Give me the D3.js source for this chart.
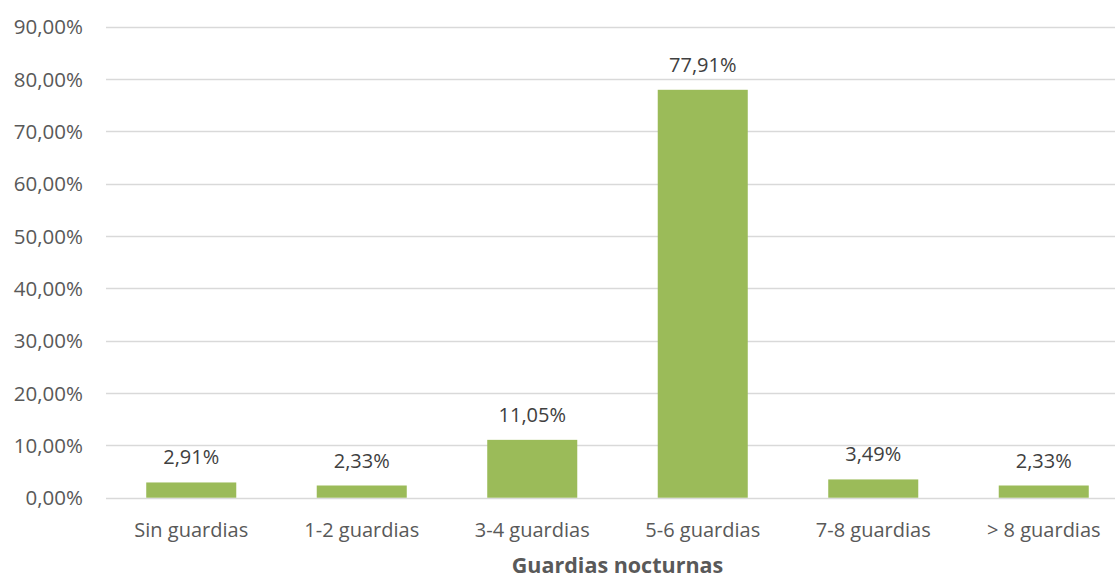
<!DOCTYPE html>
<html><head><meta charset="utf-8">
<script src="https://cdn.jsdelivr.net/npm/d3@7"></script>
<style>body{margin:0;background:#fff}svg{display:block}text{font-family:"Open Sans",sans-serif}</style>
</head><body>
<svg id="c" width="1115" height="578"></svg>
<script>
const categories = ["Sin guardias","1-2 guardias","3-4 guardias","5-6 guardias","7-8 guardias","> 8 guardias"];
const values = [2.91, 2.33, 11.05, 77.91, 3.49, 2.33];
const yTicks = [0,10,20,30,40,50,60,70,80,90];
const axisTitle = "Guardias nocturnas";

const svg = d3.select("#c");
const fmt = v => d3.format(".2f")(v).replace(".", ",") + "%";
const x = d3.scaleBand().domain(categories).range([106, 1129]).paddingInner(0.472).paddingOuter(0.236);
const y = d3.scaleLinear().domain([0, 90]).range([497.7, 26.5]);

// gridlines
svg.append("g").selectAll("line").data(yTicks).join("line")
  .attr("x1", 106).attr("x2", 1129)
  .attr("y1", d => Math.round(y(d)) + 0.5).attr("y2", d => Math.round(y(d)) + 0.5)
  .attr("stroke", "#d9d9d9").attr("stroke-width", 1.3);

// y axis labels
const yAxis = d3.axisLeft(y).tickValues(yTicks).tickFormat(fmt).tickSize(0).tickPadding(0);
const gy = svg.append("g").attr("transform", "translate(83,0)").call(yAxis);
gy.select(".domain").remove();
gy.selectAll("text").attr("fill", "#595959").style("font-size", "20.5px").style("font-family", "Open Sans").attr("dy", "0.35em");

// bars
svg.append("g").selectAll("rect").data(values).join("rect")
  .attr("x", (d, i) => x(categories[i])).attr("width", x.bandwidth())
  .attr("y", d => y(d)).attr("height", d => y(0) - y(d))
  .attr("fill", "#9bbb59");

// data labels
svg.append("g").selectAll("text").data(values).join("text")
  .attr("x", (d, i) => x(categories[i]) + x.bandwidth() / 2)
  .attr("y", d => y(d) - 18)
  .attr("text-anchor", "middle").attr("fill", "#404040").style("font-size", "20px")
  .text(d => fmt(d));

// x axis labels
const xAxis = d3.axisBottom(x).tickSize(0).tickPadding(0);
const gx = svg.append("g").attr("transform", "translate(0,523)").call(xAxis);
gx.select(".domain").remove();
gx.selectAll("text").attr("fill", "#595959").style("font-size", "20px").style("font-family", "Open Sans").attr("dy", "0.71em");

// axis title
svg.append("text").attr("x", (106 + 1129) / 2).attr("y", 573)
  .attr("text-anchor", "middle").attr("fill", "#595959")
  .style("font-size", "21.5px").style("font-weight", "bold").text(axisTitle);
</script>
</body></html>
